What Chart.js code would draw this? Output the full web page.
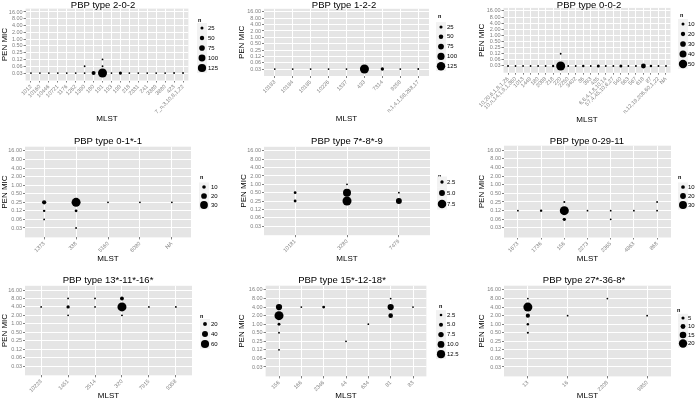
<!DOCTYPE html>
<html>
<head>
<meta charset="utf-8">
<script src="https://cdn.jsdelivr.net/npm/chart.js@4.4.0/dist/chart.umd.min.js"></script>
<style>
  html, body { margin: 0; padding: 0; background: #fff; }
  #wrap { position: relative; width: 696px; height: 401px; overflow: hidden; }
  #wrap canvas { position: absolute; }
</style>
</head>
<body>
<div id="wrap"></div>
<script>
// MIC levels shared by every panel (y axis, bottom to top)
const micLevels = ['0.03', '0.06', '0.12', '0.25', '0.50', '1.00', '2.00', '4.00', '8.00', '16.00'];

// PBP type 2-0-2
const mlst202 = ['1012', '10160', '10446', '10721', '1176', '1262', '1390', '180', '191', '193', '199', '218', '2331', '241', '3389', '3880', '423', '7_n,3,10,8,1,22'];
const counts202 = [
  ['1012', '0.03', 1], ['10160', '0.03', 1], ['10446', '0.03', 1], ['10721', '0.03', 1], ['1176', '0.03', 1],
  ['1262', '0.03', 1], ['1390', '0.03', 1], ['1390', '0.06', 1], ['180', '0.03', 45], ['191', '0.03', 140],
  ['191', '0.06', 2], ['191', '0.12', 1], ['193', '0.03', 1], ['199', '0.03', 28], ['218', '0.03', 1],
  ['2331', '0.03', 1], ['241', '0.03', 1], ['3389', '0.03', 1], ['3880', '0.03', 1], ['423', '0.03', 2],
  ['7_n,3,10,8,1,22', '0.03', 2]
];
const breaks202 = [25, 50, 75, 100, 125];

// PBP type 1-2-2
const mlst122 = ['10183', '10184', '10185', '10226', '1337', '433', '7314', '9258', 'n,1,4,1,58,268,17'];
const counts122 = [
  ['10183', '0.03', 1], ['10184', '0.03', 1], ['10185', '0.03', 1], ['10226', '0.03', 1], ['1337', '0.03', 1],
  ['433', '0.03', 135], ['7314', '0.03', 30], ['9258', '0.03', 1], ['n,1,4,1,58,268,17', '0.03', 2]
];
const breaks122 = [25, 50, 75, 100, 125];

// PBP type 0-0-2
const mlst002 = ['10,20,6,1,8,1,26', '10,n,14,1,9,1,360', '1013', '1449', '180', '2088', '218', '220', '2250', '3402', '36',
  '393', '435', '6,6,4,1,8,10,14', '57,4,45,10,6,27', '540', '563', '567', '618', '87', 'n,12,19,206,60,1,22', 'NA'];
const counts002 = [
  ['10,20,6,1,8,1,26', '0.03', 2], ['10,n,14,1,9,1,360', '0.03', 1], ['1013', '0.03', 1], ['1449', '0.03', 1],
  ['180', '0.03', 1], ['2088', '0.03', 1], ['218', '0.03', 5], ['220', '0.03', 55], ['220', '0.12', 1],
  ['2250', '0.03', 1], ['3402', '0.03', 1], ['36', '0.03', 6], ['393', '0.03', 1], ['435', '0.03', 10],
  ['6,6,4,1,8,10,14', '0.03', 2], ['57,4,45,10,6,27', '0.03', 2], ['540', '0.03', 10], ['563', '0.03', 1],
  ['567', '0.03', 2], ['618', '0.03', 24], ['87', '0.03', 6], ['n,12,19,206,60,1,22', '0.03', 2], ['NA', '0.03', 1]
];
const breaks002 = [10, 20, 30, 40, 50];

// PBP type 0-1*-1
const mlst011 = ['1373', '338', '5160', '6080', 'NA'];
const counts011 = [
  ['1373', '0.25', 13], ['1373', '0.12', 4], ['1373', '0.06', 1], ['338', '0.25', 36], ['338', '0.12', 6],
  ['338', '0.03', 1], ['5160', '0.25', 1], ['6080', '0.25', 1], ['NA', '0.25', 1]
];
const breaks011 = [10, 20, 30];

// PBP type 7*-8*-9
const mlst789 = ['10181', '3280', '7479'];
const counts789 = [
  ['10181', '0.50', 2], ['10181', '0.25', 2], ['3280', '1.00', 1], ['3280', '0.50', 7], ['3280', '0.25', 8],
  ['7479', '0.50', 1], ['7479', '0.25', 5]
];
const breaks789 = [2.5, 5.0, 7.5];

// PBP type 0-29-11
const mlst02911 = ['1673', '1736', '156', '2273', '2365', '4863', '868'];
const counts02911 = [
  ['1673', '0.12', 1], ['1736', '0.12', 4], ['156', '0.25', 2], ['156', '0.12', 35], ['156', '0.06', 8],
  ['2273', '0.12', 1], ['2365', '0.12', 1], ['2365', '0.06', 1], ['4863', '0.12', 1], ['868', '0.25', 1], ['868', '0.12', 1]
];
const breaks02911 = [10, 20, 30];

// PBP type 13*-11*-16*
const mlst131116 = ['10223', '1451', '2514', '320', '7915', '9358'];
const counts131116 = [
  ['10223', '4.00', 1], ['1451', '8.00', 1], ['1451', '4.00', 15], ['1451', '2.00', 1], ['2514', '8.00', 1],
  ['2514', '4.00', 1], ['320', '8.00', 20], ['320', '4.00', 68], ['320', '2.00', 2], ['7915', '4.00', 1], ['9358', '4.00', 2]
];
const breaks131116 = [20, 40, 60];

// PBP type 15*-12-18*
const mlst151218 = ['156', '166', '2346', '44', '634', '81', '83'];
const counts151218 = [
  ['156', '4.00', 9], ['156', '2.00', 14], ['156', '1.00', 3], ['156', '0.50', 1], ['156', '0.12', 1],
  ['166', '4.00', 1], ['2346', '4.00', 3], ['44', '0.25', 1], ['634', '1.00', 1], ['81', '8.00', 1],
  ['81', '4.00', 9], ['81', '2.00', 6], ['83', '4.00', 1]
];
const breaks151218 = [2.5, 5.0, 7.5, 10.0, 12.5];

// PBP type 27*-36-8*
const mlst27368 = ['13', '16', '2208', '9850'];
const counts27368 = [
  ['13', '8.00', 1], ['13', '4.00', 22], ['13', '2.00', 8], ['13', '1.00', 3], ['13', '0.50', 2],
  ['16', '2.00', 1], ['2208', '8.00', 1], ['9850', '2.00', 1]
];
const breaks27368 = [5, 10, 15, 20];

const panels = [
  { title: 'PBP type 2-0-2', mlst: mlst202, counts: counts202, breaks: breaks202 },
  { title: 'PBP type 1-2-2', mlst: mlst122, counts: counts122, breaks: breaks122 },
  { title: 'PBP type 0-0-2', mlst: mlst002, counts: counts002, breaks: breaks002 },
  { title: 'PBP type 0-1*-1', mlst: mlst011, counts: counts011, breaks: breaks011 },
  { title: 'PBP type 7*-8*-9', mlst: mlst789, counts: counts789, breaks: breaks789 },
  { title: 'PBP type 0-29-11', mlst: mlst02911, counts: counts02911, breaks: breaks02911 },
  { title: 'PBP type 13*-11*-16*', mlst: mlst131116, counts: counts131116, breaks: breaks131116 },
  { title: 'PBP type 15*-12-18*', mlst: mlst151218, counts: counts151218, breaks: breaks151218 },
  { title: 'PBP type 27*-36-8*', mlst: mlst27368, counts: counts27368, breaks: breaks27368 }
];

// layout in page pixels: plot area, title, axis titles, legend
const layouts = [
  { plot: [25.6, 8.6, 188.4, 80.5], title: [103, 5.5], yTitleX: 4, xTitleY: 119, leg: [198, 20, 202, 28, 10, 208] },
  { plot: [264, 8.8, 429, 76], title: [344, 5.5], yTitleX: 242, xTitleY: 119, leg: [438, 16, 441, 27, 9.8, 447] },
  { plot: [503.5, 7.9, 670.5, 72.7], title: [589, 5.5], yTitleX: 482, xTitleY: 120, leg: [680, 15, 683, 24, 10, 688] },
  { plot: [25, 146.7, 191, 237.4], title: [108, 141], yTitleX: 4, xTitleY: 259, leg: [200, 177, 204, 187, 9, 211] },
  { plot: [264, 146.8, 430, 235.2], title: [347, 141], yTitleX: 244, xTitleY: 259, leg: [438, 176, 442, 182, 11, 447] },
  { plot: [504, 145.7, 671, 237.5], title: [587, 141], yTitleX: 482, xTitleY: 259, leg: [678, 177, 683, 187, 9, 688] },
  { plot: [25, 285.8, 192, 375.3], title: [108, 280], yTitleX: 4, xTitleY: 397, leg: [200, 316, 205, 324, 10, 211] },
  { plot: [265.6, 285.7, 426.4, 376.4], title: [342, 280], yTitleX: 242, xTitleY: 397, leg: [439, 306, 441, 315, 9.8, 447] },
  { plot: [504, 285.7, 671, 376.4], title: [584, 280], yTitleX: 482, xTitleY: 397, leg: [677, 310, 683, 318, 8.5, 688] }
];

const colX = [0, 232, 464];
const rowY = [0, 134, 267];
const rowH = [134, 133, 134];
const FONT = '"Liberation Sans", Arial, sans-serif';
const rMin = 0.9, rMax = 4.5;

// old ggplot size scale: point size linear in n between data min and max
function sizeScale(counts) {
  const ns = counts.map(c => c[2]);
  const lo = Math.min(...ns), hi = Math.max(...ns);
  return n => rMin + (rMax - rMin) * Math.max(0, (n - lo) / (hi - lo));
}

// grey panel background like ggplot
const panelBg = {
  id: 'panelBg',
  beforeDraw(chart) {
    const { ctx, chartArea: a } = chart;
    ctx.save();
    ctx.fillStyle = '#e5e5e5';
    ctx.fillRect(a.left, a.top, a.right - a.left, a.bottom - a.top);
    ctx.restore();
  }
};

// plot title and size legend
const ggExtras = {
  id: 'ggExtras',
  afterDraw(chart, args, opts) {
    const ctx = chart.ctx;
    ctx.save();
    ctx.fillStyle = '#000';
    ctx.textBaseline = 'middle';
    ctx.textAlign = 'center';
    ctx.font = '9.5px ' + FONT;
    ctx.fillText(opts.title, opts.titleX, opts.titleY);

    const [nX, nY, keyX, keyY0, step, labX] = opts.leg;
    ctx.textAlign = 'left';
    ctx.font = 'bold 5.5px ' + FONT;
    ctx.fillText('n', nX, nY);
    ctx.font = '6px ' + FONT;
    opts.breaks.forEach((b, i) => {
      const cy = keyY0 + i * step;
      ctx.fillStyle = '#f2f2f2';
      ctx.fillRect(keyX - 5, cy - step / 2, 10, step);
      ctx.fillStyle = '#000';
      ctx.beginPath();
      ctx.arc(keyX, cy, opts.size(b), 0, Math.PI * 2);
      ctx.fill();
      ctx.fillText(b.toFixed(opts.decimals), labX, cy);
    });
    ctx.restore();
  }
};

const wrap = document.getElementById('wrap');

panels.forEach((p, k) => {
  const lay = layouts[k];
  const cx = colX[k % 3], cy = rowY[Math.floor(k / 3)], ch = rowH[Math.floor(k / 3)];
  const cw = 232;
  const [pl, pt, pr, pb] = lay.plot;
  const canvas = document.createElement('canvas');
  canvas.width = cw;
  canvas.height = ch;
  canvas.style.left = cx + 'px';
  canvas.style.top = cy + 'px';
  wrap.appendChild(canvas);

  const size = sizeScale(p.counts);
  const decimals = p.breaks.some(b => b % 1 !== 0) ? 1 : 0;
  const points = p.counts.map(([m, mic, n]) => ({
    x: p.mlst.indexOf(m),
    y: micLevels.indexOf(mic),
    r: size(n)
  }));

  const gridOpts = { color: '#ffffff', lineWidth: 1, drawTicks: true, tickLength: 2, tickColor: '#7f7f7f' };

  new Chart(canvas.getContext('2d'), {
    type: 'bubble',
    data: {
      datasets: [{
        data: points,
        backgroundColor: '#000000',
        borderWidth: 0,
        hoverRadius: 0
      }]
    },
    options: {
      responsive: false,
      animation: false,
      events: [],
      layout: { padding: { left: 0, bottom: 0, top: pt - cy, right: cx + cw - pr } },
      scales: {
        x: {
          type: 'linear',
          min: -0.6,
          max: p.mlst.length - 1 + 0.6,
          afterBuildTicks: ax => { ax.ticks = p.mlst.map((_, i) => ({ value: i })); },
          afterFit: s => { s.height = cy + ch - pb; s.paddingLeft = 0; s.paddingRight = 0; },
          grid: gridOpts,
          border: { display: false },
          ticks: {
            autoSkip: false,
            minRotation: 45,
            maxRotation: 45,
            padding: 1,
            color: '#7f7f7f',
            font: { family: FONT, size: 5.5 },
            callback: v => p.mlst[v]
          },
          title: {
            display: true,
            text: 'MLST',
            color: '#000',
            font: { family: FONT, size: 8 },
            padding: { top: 0, bottom: Math.max(0, cy + ch - lay.xTitleY - 4.8) }
          }
        },
        y: {
          type: 'linear',
          min: -1.1,
          max: 9.5,
          afterBuildTicks: ax => { ax.ticks = micLevels.map((_, i) => ({ value: i })); },
          afterFit: s => { s.width = pl - cx; s.paddingTop = 0; s.paddingBottom = 0; },
          grid: gridOpts,
          border: { display: false },
          ticks: {
            autoSkip: false,
            padding: 1,
            color: '#7f7f7f',
            font: { family: FONT, size: 5.5 },
            callback: v => micLevels[v]
          },
          title: {
            display: true,
            text: 'PEN MIC',
            color: '#000',
            font: { family: FONT, size: 8 },
            padding: { top: Math.max(0, lay.yTitleX - cx - 4.8), bottom: 0 }
          }
        }
      },
      plugins: {
        legend: { display: false },
        tooltip: { enabled: false },
        ggExtras: {
          title: p.title,
          titleX: lay.title[0] - cx,
          titleY: lay.title[1] - cy,
          leg: lay.leg.map((v, i) => (i === 1 || i === 3) ? v - cy : (i === 4 ? v : v - cx)),
          breaks: p.breaks,
          size: size,
          decimals: decimals
        }
      }
    },
    plugins: [panelBg, ggExtras]
  });
});
</script>
</body>
</html>
